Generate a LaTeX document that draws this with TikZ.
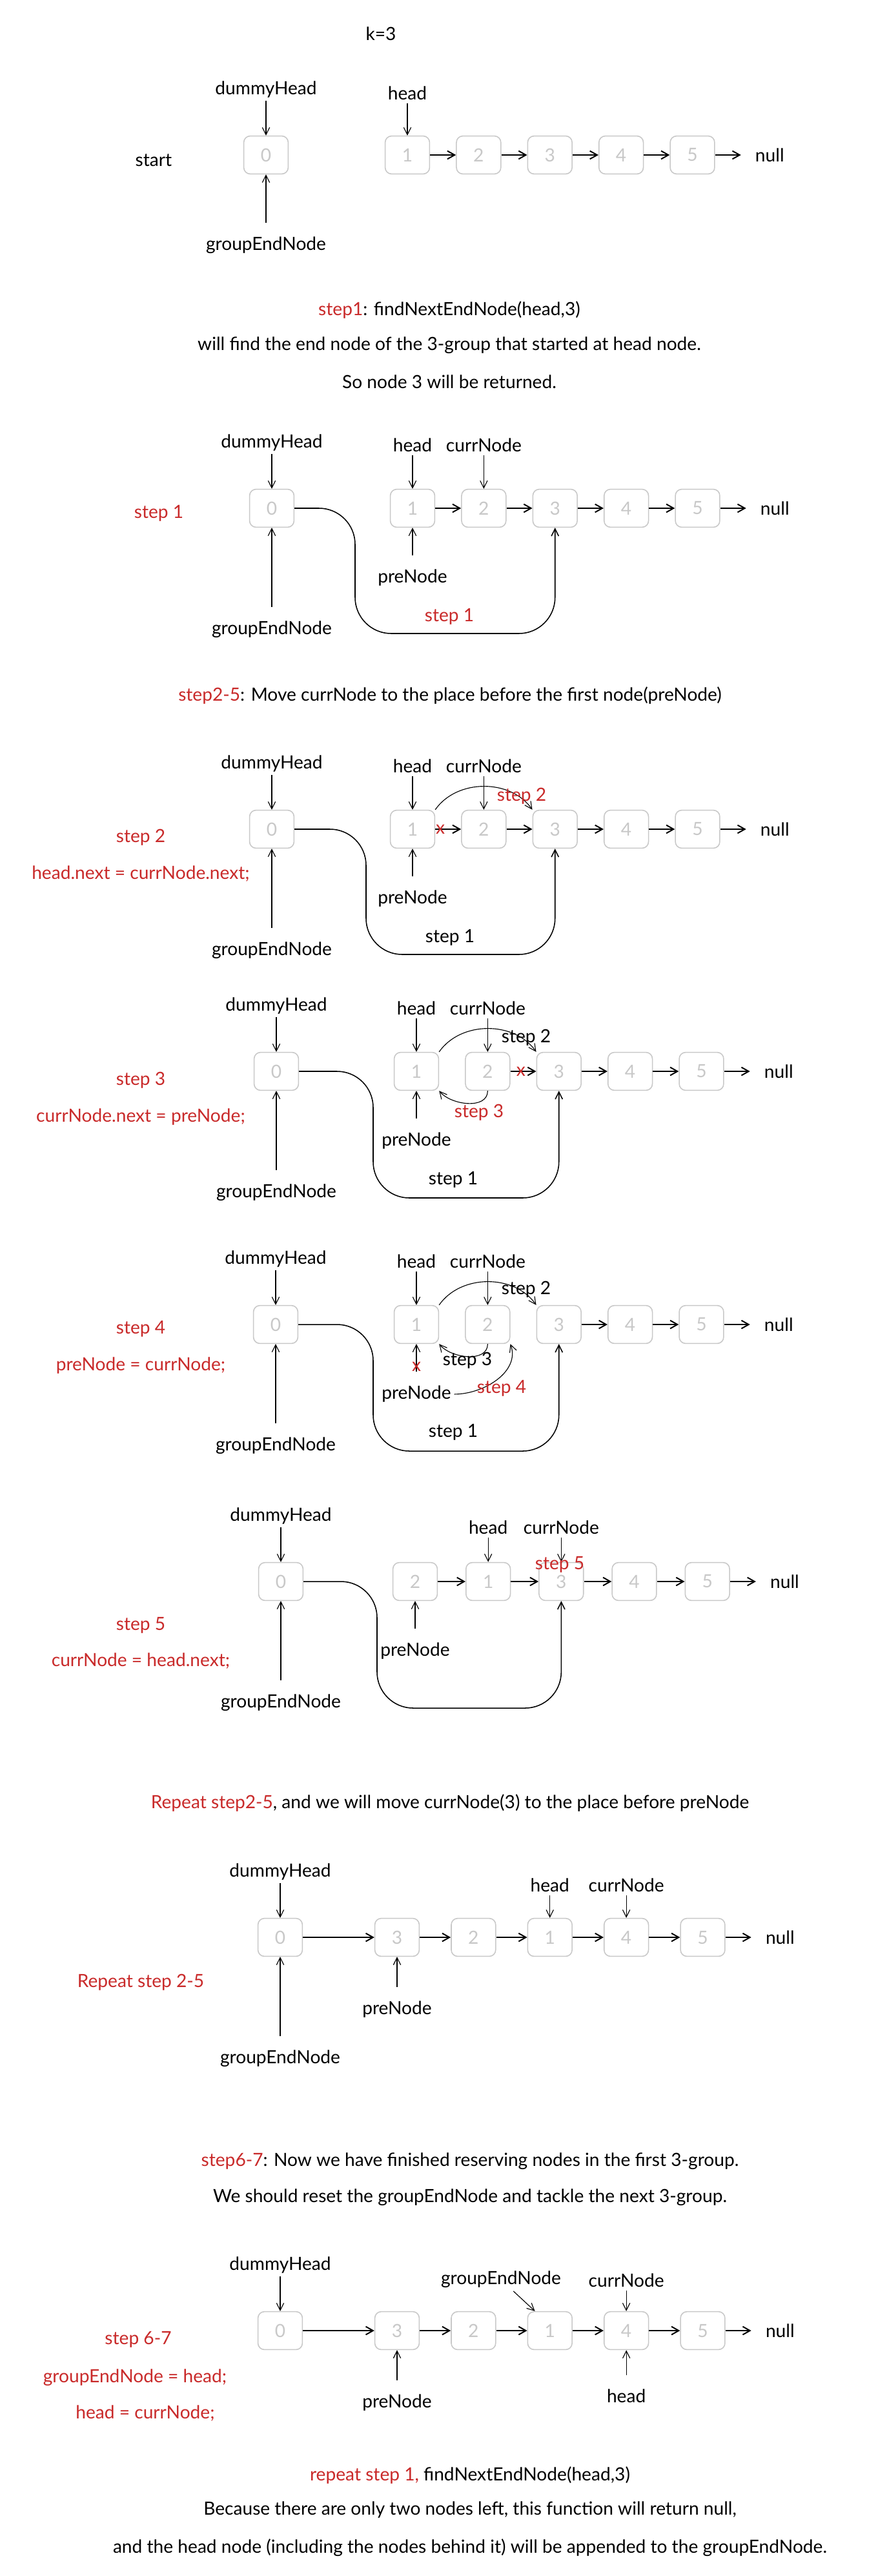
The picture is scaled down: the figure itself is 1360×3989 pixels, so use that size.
\documentclass[tikz,border=0pt]{standalone}
\usepackage{fontspec}
\setmainfont{Lato}
\usetikzlibrary{positioning,arrows.meta}
\definecolor{stepred}{RGB}{201,42,42}
\definecolor{boxgray}{RGB}{200,200,200}
\tikzset{node distance=1cm,
  every node/.style={font=\fontsize{20}{24}\selectfont},
  lnode/.style={draw=boxgray, text=boxgray, line width=1.1pt, rounded corners=0.25cm,
    minimum width=1.72cm, minimum height=1.47cm, inner sep=0pt},
  nxt/.style={-{Straight Barb[length=8pt,width=9pt]}, line width=1.4pt},
  ptr/.style={-{Straight Barb[length=8pt,width=8pt]}, line width=0.8pt},
  ptrup/.style={{Straight Barb[length=8pt,width=8pt]}-, line width=0.8pt, shorten >=12pt},
  jump/.style={-{Straight Barb[length=8pt,width=8pt]}, line width=1.1pt, rounded corners=1.4cm},
  nul/.style={inner xsep=0.55cm},
  redtxt/.style={text=stepred},
  xmark/.style={text=stepred, inner sep=0pt, anchor=center}}

\begin{document}
\begin{tikzpicture}[x=0.025cm, y=-0.025cm]
  \useasboundingbox[fill=white] (0,0) rectangle (1360,3989);

  % the list at the start
  \node (kval) at (590,52) {k=3};
  \node (aStart) at (238,248) {start};
  \node[lnode] (a0) at (412,240) {0};
  \node[lnode] (a1) at (631,240) {1};
  \node[lnode, right=of a1] (a2) {2};
  \node[lnode, right=of a2] (a3) {3};
  \node[lnode, right=of a3] (a4) {4};
  \node[lnode, right=of a4] (a5) {5};
  \node[nul, right=of a5] (aNull) {null};
  \node[above=1.35cm of a0] (aDummy) {dummyHead};
  \node[above=1.25cm of a1] (aHead) {head};
  \node[below=2.3cm of a0] (aGroupEnd) {groupEndNode};

  \draw[ptr] (aDummy) -- (a0);
  \draw[ptr] (aHead) -- (a1);
  \draw[ptrup] (a0) -- (aGroupEnd);
  \draw[nxt] (a1) -- (a2);
  \draw[nxt] (a2) -- (a3);
  \draw[nxt] (a3) -- (a4);
  \draw[nxt] (a4) -- (a5);
  \draw[nxt] (a5) -- (aNull);

  \node (t1a) at (696,480) {\textcolor{stepred}{step1}: findNextEndNode(head,3)};
  \node (t1b) at (696,535) {will find the end node of the 3-group that started at head node.};
  \node (t1c) at (696,591) {So node 3 will be returned.};

  % step 1
  \node[redtxt] (bStep) at (246,795) {step 1};
  \node[lnode] (b0) at (421,787) {0};
  \node[lnode] (b1) at (639,787) {1};
  \node[lnode, right=of b1] (b2) {2};
  \node[lnode, right=of b2] (b3) {3};
  \node[lnode, right=of b3] (b4) {4};
  \node[lnode, right=of b4] (b5) {5};
  \node[nul, right=of b5] (bNull) {null};
  \node[above=1.35cm of b0] (bDummy) {dummyHead};
  \node[above=1.3cm of b1] (bHead) {head};
  \node[above=1.3cm of b2] (bCurr) {currNode};
  \node[below=1.5cm of b1] (bPre) {preNode};
  \node[below=3.5cm of b0] (bGroupEnd) {groupEndNode};

  \draw[ptr] (bDummy) -- (b0);
  \draw[ptr] (bHead) -- (b1);
  \draw[ptr] (bCurr) -- (b2);
  \draw[ptrup] (b1) -- (bPre);
  \draw[ptrup] (b0) -- (bGroupEnd);
  \draw[nxt] (b1) -- (b2);
  \draw[nxt] (b2) -- (b3);
  \draw[nxt] (b3) -- (b4);
  \draw[nxt] (b4) -- (b5);
  \draw[nxt] (b5) -- (bNull);
  \draw[jump] (b0.east) -| (550,981) -| (b3.south);
  \node[redtxt] (bJump) at (696,955) {step 1};

  \node (t2) at (697,1077) {\textcolor{stepred}{step2-5}: Move currNode to the place before the first node(preNode)};

  % step 2
  \node[redtxt] (cStep) at (218,1297) {step 2};
  \node[redtxt] (cCode) at (218,1353) {head.next = currNode.next;};
  \node[lnode] (c0) at (421,1284) {0};
  \node[lnode] (c1) at (639,1284) {1};
  \node[lnode, right=of c1] (c2) {2};
  \node[lnode, right=of c2] (c3) {3};
  \node[lnode, right=of c3] (c4) {4};
  \node[lnode, right=of c4] (c5) {5};
  \node[nul, right=of c5] (cNull) {null};
  \node[above=1.35cm of c0] (cDummy) {dummyHead};
  \node[above=1.3cm of c1] (cHead) {head};
  \node[above=1.3cm of c2] (cCurr) {currNode};
  \node[below=1.5cm of c1] (cPre) {preNode};
  \node[below=3.5cm of c0] (cGroupEnd) {groupEndNode};

  \draw[ptr] (cDummy) -- (c0);
  \draw[ptr] (cHead) -- (c1);
  \draw[ptr] (cCurr) -- (c2);
  \draw[ptrup] (c1) -- (cPre);
  \draw[ptrup] (c0) -- (cGroupEnd);
  \draw[nxt] (c1) -- node[xmark, pos=0.2] {x} (c2);
  \draw[nxt] (c2) -- (c3);
  \draw[nxt] (c3) -- (c4);
  \draw[nxt] (c4) -- (c5);
  \draw[nxt] (c5) -- (cNull);
  \draw[ptr] (c1.north east) to[out=55,in=125] (c3.north west);
  \node[redtxt] (cArc) at (808,1233) {step 2};
  \draw[jump] (c0.east) -| (567,1478) -| (c3.south);
  \node (cJump) at (697,1452) {step 1};

  % step 3
  \node[redtxt] (dStep) at (218,1673) {step 3};
  \node[redtxt] (dCode) at (218,1730) {currNode.next = preNode;};
  \node[lnode] (d0) at (428,1659) {0};
  \node[lnode] (d1) at (645,1659) {1};
  \node[lnode, right=of d1] (d2) {2};
  \node[lnode, right=of d2] (d3) {3};
  \node[lnode, right=of d3] (d4) {4};
  \node[lnode, right=of d4] (d5) {5};
  \node[nul, right=of d5] (dNull) {null};
  \node[above=1.35cm of d0] (dDummy) {dummyHead};
  \node[above=1.3cm of d1] (dHead) {head};
  \node[above=1.3cm of d2] (dCurr) {currNode};
  \node[below=1.5cm of d1] (dPre) {preNode};
  \node[below=3.5cm of d0] (dGroupEnd) {groupEndNode};

  \draw[ptr] (dDummy) -- (d0);
  \draw[ptr] (dHead) -- (d1);
  \draw[ptr] (dCurr) -- (d2);
  \draw[ptrup] (d1) -- (dPre);
  \draw[ptrup] (d0) -- (dGroupEnd);
  \draw[nxt] (d2) -- node[xmark, pos=0.41] {x} (d3);
  \draw[nxt] (d3) -- (d4);
  \draw[nxt] (d4) -- (d5);
  \draw[nxt] (d5) -- (dNull);
  \draw[ptr] (d1.north east) to[out=55,in=125] (d3.north west);
  \node (dArcA) at (815,1607) {step 2};
  \draw[ptr] (d2.south) to[out=-90,in=-50] (d1.south east);
  \node[redtxt] (dArcB) at (742,1723) {step 3};
  \draw[jump] (d0.east) -| (578,1855) -| (d3.south);
  \node (dJump) at (702,1827) {step 1};

  % step 4
  \node[redtxt] (eStep) at (218,2058) {step 4};
  \node[redtxt] (eCode) at (218,2115) {preNode = currNode;};
  \node[lnode] (e0) at (427,2051) {0};
  \node[lnode] (e1) at (645,2051) {1};
  \node[lnode, right=of e1] (e2) {2};
  \node[lnode, right=of e2] (e3) {3};
  \node[lnode, right=of e3] (e4) {4};
  \node[lnode, right=of e4] (e5) {5};
  \node[nul, right=of e5] (eNull) {null};
  \node[above=1.35cm of e0] (eDummy) {dummyHead};
  \node[above=1.3cm of e1] (eHead) {head};
  \node[above=1.3cm of e2] (eCurr) {currNode};
  \node[below=1.5cm of e1] (ePre) {preNode};
  \node[below=3.5cm of e0] (eGroupEnd) {groupEndNode};

  \draw[ptr] (eDummy) -- (e0);
  \draw[ptr] (eHead) -- (e1);
  \draw[ptr] (eCurr) -- (e2);
  \draw[ptrup] (e1) -- node[xmark, pos=0.58] {x} (ePre);
  \draw[ptrup] (e0) -- (eGroupEnd);
  \draw[nxt] (e3) -- (e4);
  \draw[nxt] (e4) -- (e5);
  \draw[nxt] (e5) -- (eNull);
  \draw[ptr] (e1.north east) to[out=55,in=125] (e3.north west);
  \node (eArcA) at (815,1997) {step 2};
  \draw[ptr] (e2.south) to[out=-90,in=-50] (e1.south east);
  \node (eArcB) at (724,2107) {step 3};
  \draw[ptr] (ePre.east) to[out=0,in=-70] (e2.south east);
  \node[redtxt] (eArcC) at (777,2150) {step 4};
  \draw[jump] (e0.east) -| (578,2247) -| (e3.south);
  \node (eJump) at (702,2218) {step 1};

  % step 5
  \node[redtxt] (fStep) at (218,2517) {step 5};
  \node[redtxt] (fCode) at (218,2572) {currNode = head.next;};
  \node[lnode] (f0) at (435,2449) {0};
  \node[lnode] (f2) at (643,2449) {2};
  \node[lnode, right=1.07cm of f2] (f1) {1};
  \node[lnode, right=1.07cm of f1] (f3) {3};
  \node[lnode, right=1.07cm of f3] (f4) {4};
  \node[lnode, right=1.07cm of f4] (f5) {5};
  \node[nul, right=of f5] (fNull) {null};
  \node[above=1.35cm of f0] (fDummy) {dummyHead};
  \node[above=0.95cm of f1] (fHead) {head};
  \node[above=0.95cm of f3] (fCurr) {currNode};
  \node[below=1.5cm of f2] (fPre) {preNode};
  \node[below=3.5cm of f0] (fGroupEnd) {groupEndNode};

  \draw[ptr] (fDummy) -- (f0);
  \draw[ptr] (fHead) -- (f1);
  \draw[ptr] (fCurr) -- (f3);
  \draw[ptrup] (f2) -- (fPre);
  \draw[ptrup] (f0) -- (fGroupEnd);
  \draw[nxt] (f2) -- (f1);
  \draw[nxt] (f1) -- (f3);
  \draw[nxt] (f3) -- (f4);
  \draw[nxt] (f4) -- (f5);
  \draw[nxt] (f5) -- (fNull);
  \draw[jump] (f0.east) -| (584,2645) -| (f3.south);
  \node[redtxt] (fMark) at (867,2423) {step 5};

  \node (t3) at (697,2792) {\textcolor{stepred}{Repeat step2-5}, and we will move currNode(3) to the place before preNode};

  % repeat
  \node[redtxt] (gStep) at (218,3070) {Repeat step 2-5};
  \node[lnode] (g0) at (434,3000) {0};
  \node[lnode] (g3) at (615,3000) {3};
  \node[lnode, right=1.2cm of g3] (g2) {2};
  \node[lnode, right=1.2cm of g2] (g1) {1};
  \node[lnode, right=1.2cm of g1] (g4) {4};
  \node[lnode, right=1.2cm of g4] (g5) {5};
  \node[nul, right=of g5] (gNull) {null};
  \node[above=1.35cm of g0] (gDummy) {dummyHead};
  \node[above=0.875cm of g1] (gHead) {head};
  \node[above=0.875cm of g4] (gCurr) {currNode};
  \node[below=1.6cm of g3] (gPre) {preNode};
  \node[below=3.5cm of g0] (gGroupEnd) {groupEndNode};

  \draw[ptr] (gDummy) -- (g0);
  \draw[ptr] (gHead) -- (g1);
  \draw[ptr] (gCurr) -- (g4);
  \draw[ptrup] (g3) -- (gPre);
  \draw[ptrup] (g0) -- (gGroupEnd);
  \draw[nxt] (g0) -- (g3);
  \draw[nxt] (g3) -- (g2);
  \draw[nxt] (g2) -- (g1);
  \draw[nxt] (g1) -- (g4);
  \draw[nxt] (g4) -- (g5);
  \draw[nxt] (g5) -- (gNull);

  \node (t4a) at (728,3347) {\textcolor{stepred}{step6-7}: Now we have finished reserving nodes in the first 3-group.};
  \node (t4b) at (728,3403) {We should reset the groupEndNode and tackle the next 3-group.};

  % step 6-7
  \node[redtxt] (hStep) at (214,3623) {step 6-7};
  \node[redtxt] (hCodeA) at (209,3682) {groupEndNode = head;};
  \node[redtxt] (hCodeB) at (225,3737) {head = currNode;};
  \node[lnode] (h0) at (434,3609) {0};
  \node[lnode] (h3) at (615,3609) {3};
  \node[lnode, right=1.2cm of h3] (h2) {2};
  \node[lnode, right=1.2cm of h2] (h1) {1};
  \node[lnode, right=1.2cm of h1] (h4) {4};
  \node[lnode, right=1.2cm of h4] (h5) {5};
  \node[nul, right=of h5] (hNull) {null};
  \node[above=1.35cm of h0] (hDummy) {dummyHead};
  \node[above=0.8cm of h4] (hCurr) {currNode};
  \node (hGroupEnd) at (776,3530) {groupEndNode};
  \node[below=1.6cm of h3] (hPre) {preNode};
  \node[below=1.4cm of h4] (hHead) {head};

  \draw[ptr] (hDummy) -- (h0);
  \draw[ptr] (hCurr) -- (h4);
  \draw[ptr] (hGroupEnd) -- ([xshift=0.3cm]h1.north west);
  \draw[ptrup] (h3) -- (hPre);
  \draw[ptrup] (h4) -- (hHead);
  \draw[nxt] (h0) -- (h3);
  \draw[nxt] (h3) -- (h2);
  \draw[nxt] (h2) -- (h1);
  \draw[nxt] (h1) -- (h4);
  \draw[nxt] (h4) -- (h5);
  \draw[nxt] (h5) -- (hNull);

  \node (t5a) at (728,3833) {\textcolor{stepred}{repeat step 1,} findNextEndNode(head,3)};
  \node (t5b) at (728,3887) {Because there are only two nodes left, this function will return null,};
  \node (t5c) at (728,3945) {and the head node (including the nodes behind it) will be appended to the groupEndNode.};
\end{tikzpicture}
\end{document}
